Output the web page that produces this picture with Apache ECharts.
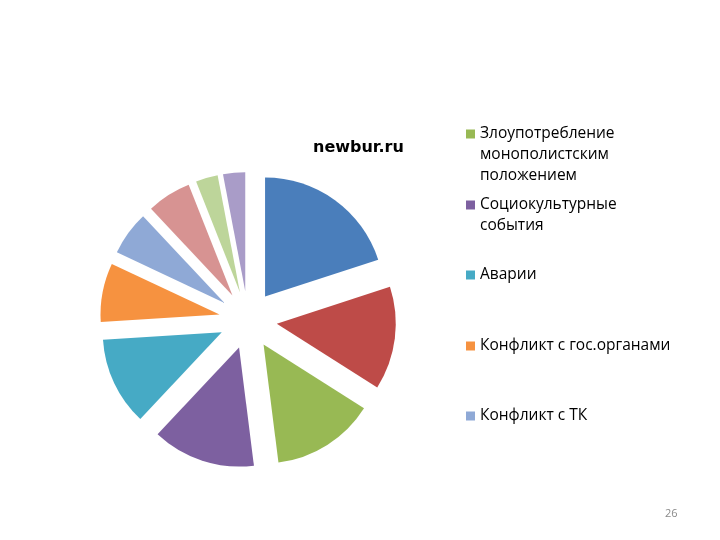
<!DOCTYPE html>
<html>
<head>
<meta charset="utf-8">
<script src="https://cdn.jsdelivr.net/npm/echarts@6/dist/echarts.min.js"></script>
<style>
html,body{margin:0;padding:0;background:#fff;}
#chart{width:720px;height:540px;}
</style>
</head>
<body>
<div id="chart"></div>
<script>
// Slice names (first two and last three are not visible in the reference legend)
var categories = [
  'Категория 1',
  'Категория 2',
  'Злоупотребление монополистским положением',
  'Социокультурные события',
  'Аварии',
  'Конфликт с гос.органами',
  'Конфликт с ТК',
  'Категория 8',
  'Категория 9',
  'Категория 10'
];
var values = [20, 14, 14, 14, 12, 8, 6, 6, 3, 3];
var colors = ['#4A7EBB', '#BE4B48', '#98B954', '#7D60A0', '#46AAC5', '#F69240', '#8FA9D6', '#D79392', '#BDD59A', '#A99CC8'];
// Legend entries visible in the reference, with their wrapped labels
var legendNames = [
  'Злоупотребление монополистским положением',
  'Социокультурные события',
  'Аварии',
  'Конфликт с гос.органами',
  'Конфликт с ТК'
];
var legendLabels = [
  'Злоупотребление\nмонополистским\nположением',
  'Социокультурные\nсобытия',
  'Аварии',
  'Конфликт с гос.органами',
  'Конфликт с ТК'
];

var LH = 21;
var iconCenters = [134, 205, 275, 346, 416];
var legends = legendNames.map(function (nm, i) {
  var lines = legendLabels[i].split('\n').length;
  // prepend blank lines so the first real line sits beside the icon
  var txt = '';
  for (var k = 1; k < lines; k++) txt += ' \n';
  txt += legendLabels[i];
  var extentUp = Math.max(4.5, ((2 * lines - 1) * LH) / 2);
  return {
    data: [nm],
    left: 466,
    top: iconCenters[i] - extentUp,
    padding: 0,
    orient: 'vertical',
    itemWidth: 9,
    itemHeight: 9,
    icon: 'rect',
    selectedMode: false,
    formatter: function () { return txt; },
    textStyle: {
      fontFamily: 'Open Sans',
      fontSize: 15.5,
      color: '#000',
      lineHeight: LH
    }
  };
});

var chart = echarts.init(document.getElementById('chart'), null, {renderer: 'canvas'});
chart.setOption({
  animation: false,
  backgroundColor: '#fff',
  color: colors,
  title: [
    {
      text: 'newbur.ru',
      left: 313,
      top: 140,
      padding: 0,
      textStyle: {fontFamily: 'DejaVu Sans', fontWeight: 'bold', fontSize: 16, color: '#000'}
    },
    {
      text: '26',
      left: 665,
      top: 508,
      padding: 0,
      textStyle: {fontFamily: 'Open Sans', fontWeight: 'normal', fontSize: 11, color: '#8a8a8a'}
    }
  ],
  legend: legends,
  series: [{
    type: 'pie',
    center: [248, 320],
    radius: 119,
    startAngle: 90,
    clockwise: true,
    selectedMode: 'multiple',
    selectedOffset: 29,
    avoidLabelOverlap: false,
    label: {show: false},
    labelLine: {show: false},
    emphasis: {scale: false},
    itemStyle: {borderWidth: 0},
    data: categories.map(function (c, i) {
      return {name: c, value: values[i], selected: true};
    })
  }]
});
</script>
</body>
</html>
